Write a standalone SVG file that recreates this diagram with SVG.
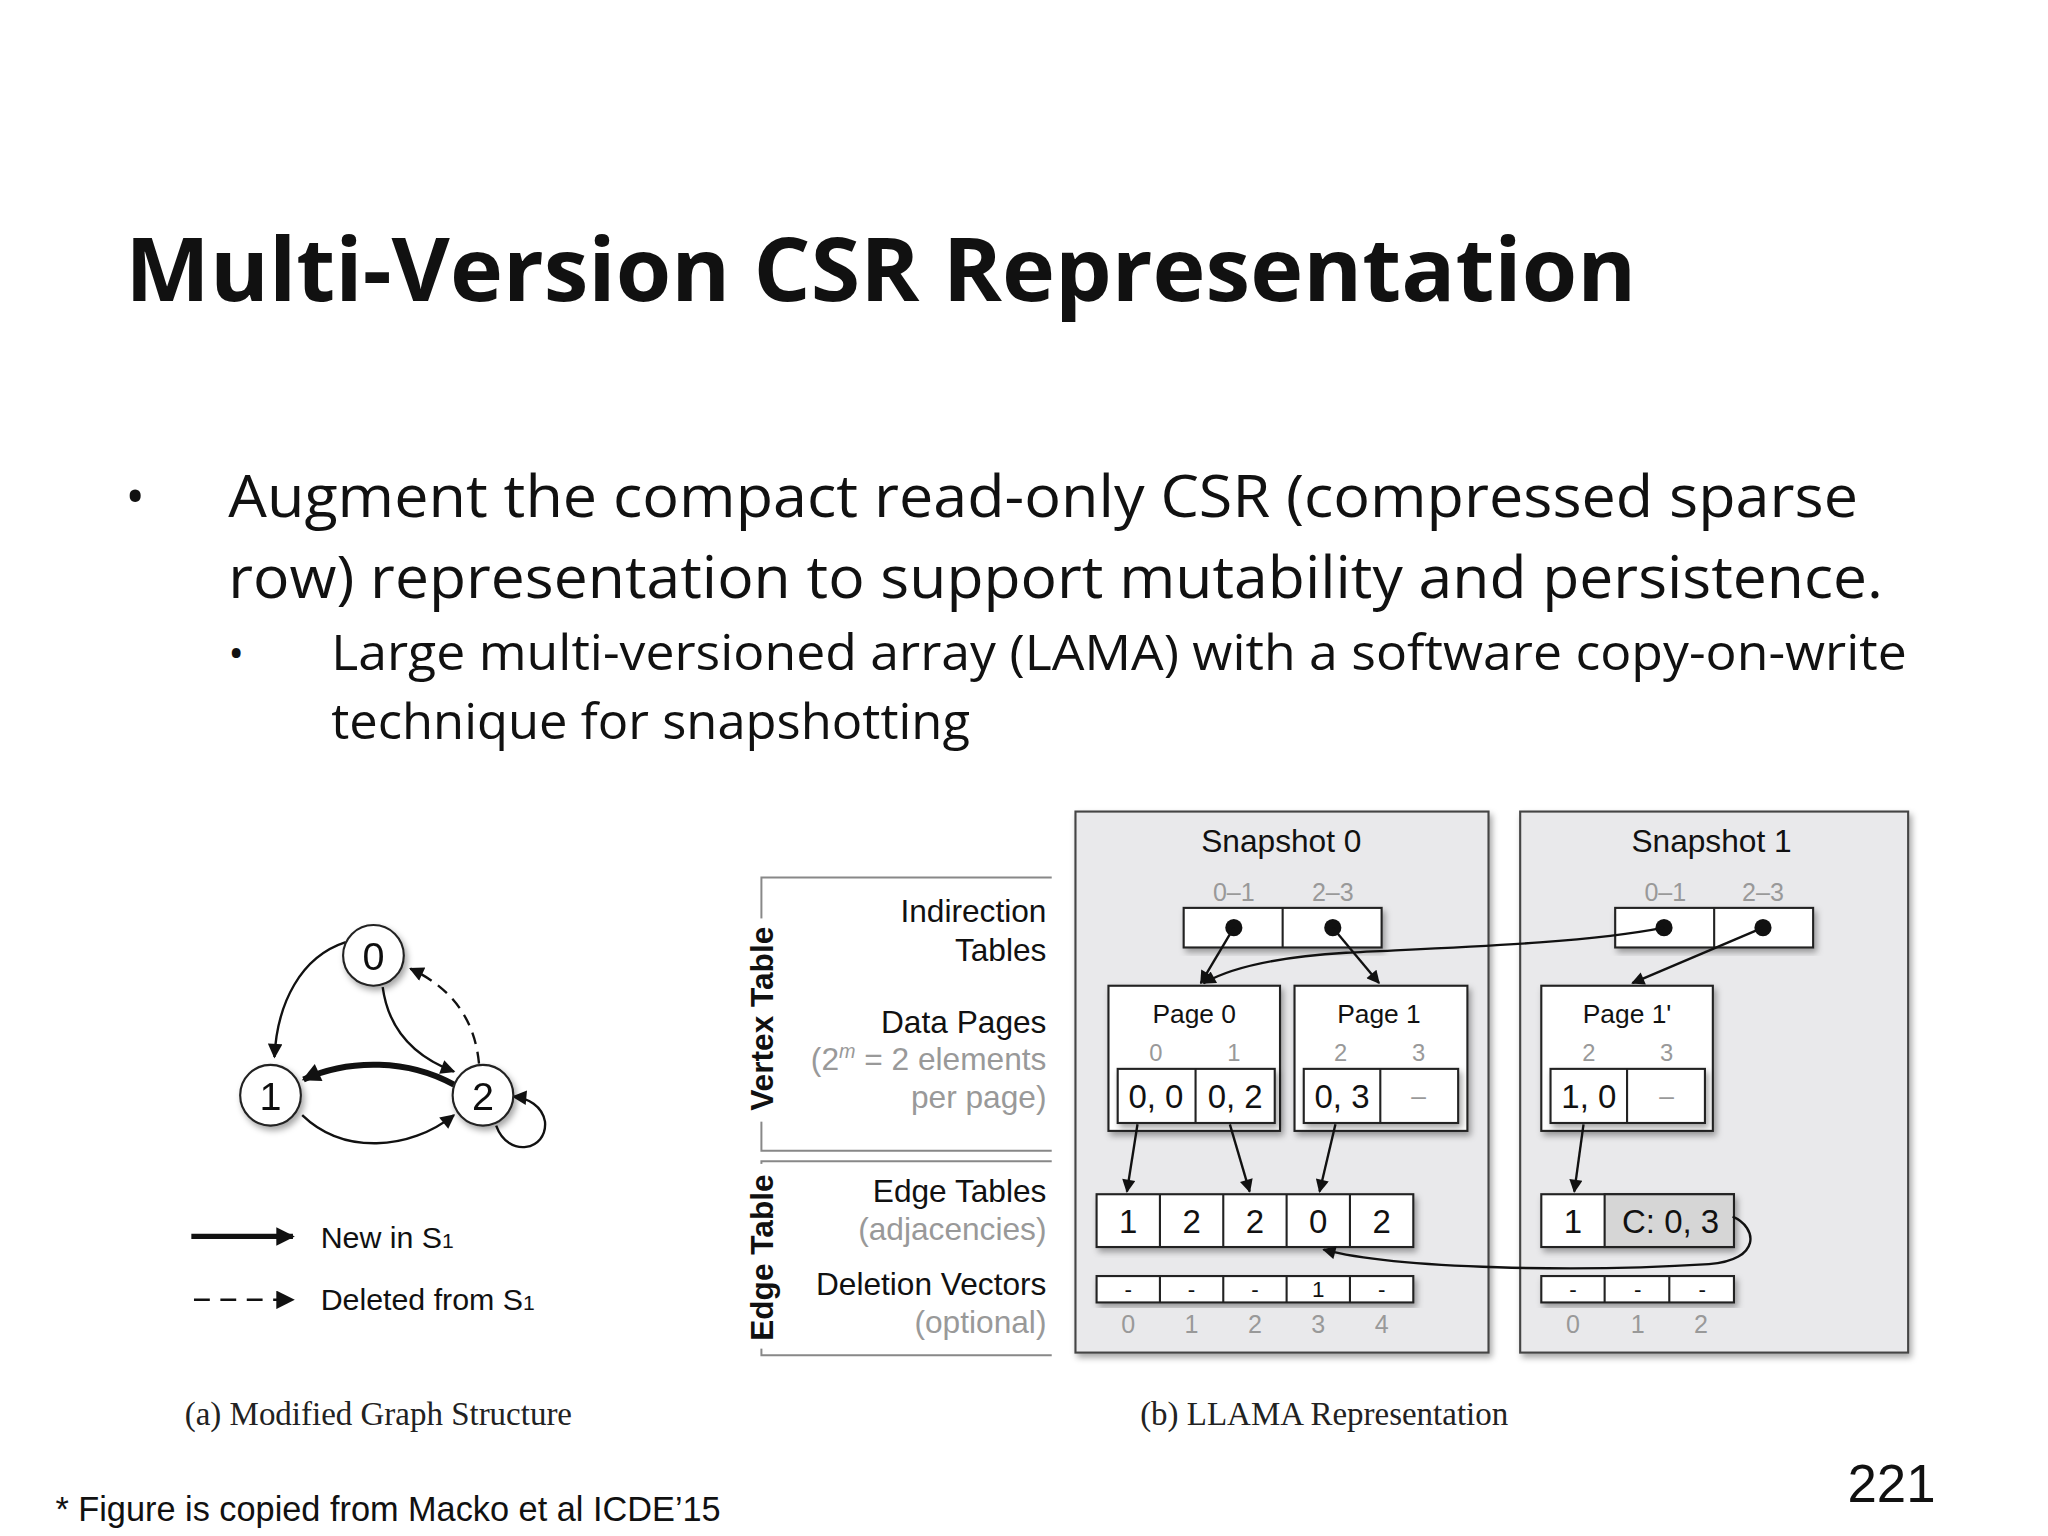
<svg xmlns="http://www.w3.org/2000/svg" width="2048" height="1536" viewBox="0 0 2048 1536">
<defs>
<style>
.t{font-family:"Open Sans","Liberation Sans",sans-serif;fill:#111}
.f{font-family:"Liberation Sans",Arial,sans-serif;fill:#111}
.g{fill:#999}
.ser{font-family:"Liberation Serif","Times New Roman",serif;fill:#222}
.box{fill:#fff;stroke:#222;stroke-width:1.6}
.snap{fill:#e9e9eb;stroke:#444;stroke-width:1.6}
.ln{fill:none;stroke:#111;stroke-width:1.8}
.br{fill:none;stroke:#888;stroke-width:1.5}
</style>
<filter id="sh" x="-10%" y="-10%" width="130%" height="130%"><feDropShadow dx="2" dy="3" stdDeviation="2.5" flood-color="#000" flood-opacity="0.35"/></filter>
<marker id="ar" viewBox="0 0 10 10" refX="9" refY="5" markerWidth="13" markerHeight="10" orient="auto" markerUnits="userSpaceOnUse"><path d="M0,0 L10,5 L0,10 z" fill="#111"/></marker>
<marker id="ar2" viewBox="0 0 10 10" refX="9" refY="5" markerWidth="15" markerHeight="11" orient="auto" markerUnits="userSpaceOnUse"><path d="M0,0 L10,5 L0,10 z" fill="#111"/></marker>
<marker id="ar3" viewBox="0 0 10 10" refX="9" refY="5" markerWidth="18" markerHeight="14" orient="auto" markerUnits="userSpaceOnUse"><path d="M0,0 L10,5 L0,10 z" fill="#111"/></marker>
</defs>
<rect width="2048" height="1536" fill="#fff"/>
<g transform="scale(1.3196)">
<text class="t" x="95" y="228" font-size="66" font-weight="bold" textLength="1145" lengthAdjust="spacingAndGlyphs">Multi-Version CSR Representation</text>
<text class="t" x="95" y="390" font-size="40">•</text>
<text class="t" x="173" y="392" font-size="45" textLength="1235" lengthAdjust="spacingAndGlyphs">Augment the compact read-only CSR (compressed sparse</text>
<text class="t" x="173" y="453" font-size="45" textLength="1254" lengthAdjust="spacingAndGlyphs">row) representation to support mutability and persistence.</text>
<text class="t" x="173" y="506" font-size="32">•</text>
<text class="t" x="251" y="508" font-size="37" textLength="1194" lengthAdjust="spacingAndGlyphs">Large multi-versioned array (LAMA) with a software copy-on-write</text>
<text class="t" x="251" y="560" font-size="37" textLength="484" lengthAdjust="spacingAndGlyphs">technique for snapshotting</text>

<!-- graph (a) -->
<g id="edges-a">
<path class="ln" d="M262,714 C228,725 210,760 208,801" marker-end="url(#ar2)"/>
<path class="ln" d="M290,748 C295,785 320,803 344,812" marker-end="url(#ar2)"/>
<path class="ln" d="M363,806 C360,775 345,750 311,734" stroke-dasharray="9,6" marker-end="url(#ar2)"/>
<path d="M344,822 C310,803 265,802 230,818" fill="none" stroke="#111" stroke-width="4.5" marker-end="url(#ar3)"/>
<path class="ln" d="M229,845 C260,875 310,872 344,845" marker-end="url(#ar2)"/>
<path class="ln" d="M376,853 C385,878 415,872 413,850 C411,838 400,832 389,831" marker-end="url(#ar2)"/>
</g>
<g id="n0" filter="url(#sh)"><circle cx="283" cy="724" r="23" class="box"/><text class="f" x="283" y="735" font-size="30" text-anchor="middle">0</text></g>
<g id="n1" filter="url(#sh)"><circle cx="205" cy="830" r="23" class="box"/><text class="f" x="205" y="841" font-size="30" text-anchor="middle">1</text></g>
<g id="n2" filter="url(#sh)"><circle cx="366" cy="830" r="23" class="box"/><text class="f" x="366" y="841" font-size="30" text-anchor="middle">2</text></g>
<g id="legend">
<line x1="145" y1="937" x2="222" y2="937" stroke="#111" stroke-width="4" marker-end="url(#ar3)"/>
<text class="f" x="243" y="946" font-size="23">New in S<tspan font-size="16">1</tspan></text>
<line x1="147" y1="985" x2="222" y2="985" stroke="#111" stroke-width="1.8" stroke-dasharray="12,8" marker-end="url(#ar3)"/>
<text class="f" x="243" y="993" font-size="23">Deleted from S<tspan font-size="16">1</tspan></text>
</g>
<text class="ser" x="140" y="1080" font-size="25">(a) Modified Graph Structure</text>
<text class="ser" x="864" y="1080" font-size="25">(b) LLAMA Representation</text>

<!-- left labels -->
<g id="brackets">
<path class="br" d="M797,665 H577 V872 H797"/>
<path class="br" d="M797,880 H577 V1027 H797"/>
<rect x="566" y="696" width="24" height="154" fill="#fff"/>
<rect x="566" y="882" width="24" height="140" fill="#fff"/>
<text class="f" font-size="24" font-weight="bold" text-anchor="middle" transform="translate(586,772) rotate(-90)">Vertex Table</text>
<text class="f" font-size="24" font-weight="bold" text-anchor="middle" transform="translate(586,953) rotate(-90)">Edge Table</text>
</g>
<g class="f" font-size="24" text-anchor="end">
<text x="793" y="699">Indirection</text>
<text x="793" y="728">Tables</text>
<text x="793" y="783">Data Pages</text>
<text x="793" y="811" class="f g">(2<tspan font-size="15" dy="-9" font-style="italic">m</tspan><tspan dy="9"> = 2 elements</tspan></text>
<text x="793" y="840" class="f g">per page)</text>
<text x="793" y="911">Edge Tables</text>
<text x="793" y="940" class="f g">(adjacencies)</text>
<text x="793" y="981">Deletion Vectors</text>
<text x="793" y="1010" class="f g">(optional)</text>
</g>

<!-- Snapshot 0 -->
<g id="snapshot0">
<rect x="815" y="615" width="313" height="410" class="snap" filter="url(#sh)"/>
<text class="f" x="971" y="646" font-size="24" text-anchor="middle">Snapshot 0</text>
<text class="f g" x="935" y="683" font-size="19" text-anchor="middle">0–1</text>
<text class="f g" x="1010" y="683" font-size="19" text-anchor="middle">2–3</text>
<g filter="url(#sh)"><rect x="897" y="688" width="150" height="30" class="box"/></g>
<line x1="972" y1="688" x2="972" y2="718" stroke="#222" stroke-width="1.6"/>
<circle cx="935" cy="703" r="6.5" fill="#111"/><circle cx="1010" cy="703" r="6.5" fill="#111"/>
</g>
<g id="page0">
<rect x="840" y="747" width="130" height="110" class="box" filter="url(#sh)"/>
<text class="f" x="905" y="775" font-size="20" text-anchor="middle">Page 0</text>
<text class="f g" x="876" y="804" font-size="18" text-anchor="middle">0</text>
<text class="f g" x="935" y="804" font-size="18" text-anchor="middle">1</text>
<rect x="847" y="810" width="119" height="41" class="box" filter="url(#sh)"/>
<line x1="906" y1="810" x2="906" y2="851" stroke="#222" stroke-width="1.6"/>
<text class="f" x="876" y="840" font-size="25" text-anchor="middle">0, 0</text>
<text class="f" x="936" y="840" font-size="25" text-anchor="middle">0, 2</text>
</g>
<g id="page1">
<rect x="981" y="747" width="131" height="110" class="box" filter="url(#sh)"/>
<text class="f" x="1045" y="775" font-size="20" text-anchor="middle">Page 1</text>
<text class="f g" x="1016" y="804" font-size="18" text-anchor="middle">2</text>
<text class="f g" x="1075" y="804" font-size="18" text-anchor="middle">3</text>
<rect x="988" y="810" width="117" height="41" class="box" filter="url(#sh)"/>
<line x1="1046" y1="810" x2="1046" y2="851" stroke="#222" stroke-width="1.6"/>
<text class="f" x="1017" y="840" font-size="25" text-anchor="middle">0, 3</text>
<text class="f g" x="1075" y="837" font-size="20" text-anchor="middle">–</text>
</g>
<g id="edges0">
<rect x="831" y="905" width="240" height="40" class="box" filter="url(#sh)"/>
<g stroke="#222" stroke-width="1.6"><line x1="879" y1="905" x2="879" y2="945"/><line x1="927" y1="905" x2="927" y2="945"/><line x1="975" y1="905" x2="975" y2="945"/><line x1="1023" y1="905" x2="1023" y2="945"/></g>
<g class="f" font-size="25" text-anchor="middle"><text x="855" y="934">1</text><text x="903" y="934">2</text><text x="951" y="934">2</text><text x="999" y="934">0</text><text x="1047" y="934">2</text></g>
<rect x="831" y="967" width="240" height="20" class="box" filter="url(#sh)"/>
<g stroke="#222" stroke-width="1.6"><line x1="879" y1="967" x2="879" y2="987"/><line x1="927" y1="967" x2="927" y2="987"/><line x1="975" y1="967" x2="975" y2="987"/><line x1="1023" y1="967" x2="1023" y2="987"/></g>
<g class="f" font-size="17" text-anchor="middle"><text x="855" y="983">-</text><text x="903" y="983">-</text><text x="951" y="983">-</text><text x="999" y="983">1</text><text x="1047" y="983">-</text></g>
<g class="f g" font-size="19" text-anchor="middle"><text x="855" y="1010">0</text><text x="903" y="1010">1</text><text x="951" y="1010">2</text><text x="999" y="1010">3</text><text x="1047" y="1010">4</text></g>
</g>

<!-- Snapshot 1 -->
<g id="snapshot1">
<rect x="1152" y="615" width="294" height="410" class="snap" filter="url(#sh)"/>
<text class="f" x="1297" y="646" font-size="24" text-anchor="middle">Snapshot 1</text>
<text class="f g" x="1262" y="683" font-size="19" text-anchor="middle">0–1</text>
<text class="f g" x="1336" y="683" font-size="19" text-anchor="middle">2–3</text>
<g filter="url(#sh)"><rect x="1224" y="688" width="150" height="30" class="box"/></g>
<line x1="1299" y1="688" x2="1299" y2="718" stroke="#222" stroke-width="1.6"/>
<circle cx="1261" cy="703" r="6.5" fill="#111"/><circle cx="1336" cy="703" r="6.5" fill="#111"/>
</g>
<g id="page1p">
<rect x="1168" y="747" width="130" height="110" class="box" filter="url(#sh)"/>
<text class="f" x="1233" y="775" font-size="20" text-anchor="middle">Page 1'</text>
<text class="f g" x="1204" y="804" font-size="18" text-anchor="middle">2</text>
<text class="f g" x="1263" y="804" font-size="18" text-anchor="middle">3</text>
<rect x="1175" y="810" width="117" height="41" class="box" filter="url(#sh)"/>
<line x1="1233" y1="810" x2="1233" y2="851" stroke="#222" stroke-width="1.6"/>
<text class="f" x="1204" y="840" font-size="25" text-anchor="middle">1, 0</text>
<text class="f g" x="1263" y="837" font-size="20" text-anchor="middle">–</text>
</g>
<g id="edges1">
<rect x="1168" y="905" width="146" height="40" class="box" filter="url(#sh)"/>
<rect x="1216" y="905" width="98" height="40" fill="#d6d6d6" stroke="#222" stroke-width="1.6"/>
<text class="f" x="1192" y="934" font-size="25" text-anchor="middle">1</text>
<text class="f" x="1266" y="934" font-size="25" text-anchor="middle" fill="#333">C: 0, 3</text>
<rect x="1168" y="967" width="146" height="20" class="box" filter="url(#sh)"/>
<g stroke="#222" stroke-width="1.6"><line x1="1216" y1="967" x2="1216" y2="987"/><line x1="1265" y1="967" x2="1265" y2="987"/></g>
<g class="f" font-size="17" text-anchor="middle"><text x="1192" y="983">-</text><text x="1241" y="983">-</text><text x="1290" y="983">-</text></g>
<g class="f g" font-size="19" text-anchor="middle"><text x="1192" y="1010">0</text><text x="1241" y="1010">1</text><text x="1289" y="1010">2</text></g>
</g>

<g id="connectors">
<line class="ln" x1="935" y1="703" x2="910" y2="745" marker-end="url(#ar)"/>
<line class="ln" x1="1010" y1="703" x2="1045" y2="745" marker-end="url(#ar)"/>
<path class="ln" d="M1261,703 C1200,715 1100,718 1020,722 C970,725 935,732 912,745" marker-end="url(#ar)"/>
<line class="ln" x1="1336" y1="703" x2="1237" y2="745" marker-end="url(#ar)"/>
<line class="ln" x1="862" y1="852" x2="854" y2="903" marker-end="url(#ar)"/>
<line class="ln" x1="932" y1="852" x2="947" y2="903" marker-end="url(#ar)"/>
<line class="ln" x1="1012" y1="852" x2="1000" y2="903" marker-end="url(#ar)"/>
<line class="ln" x1="1200" y1="852" x2="1193" y2="903" marker-end="url(#ar)"/>
<path class="ln" d="M1313,922 C1332,930 1335,955 1295,958 C1200,964 1060,962 1003,947" marker-end="url(#ar)"/>
</g>

<text class="f" x="42" y="1153" font-size="26">* Figure is copied from Macko et al ICDE’15</text>
<text class="f" x="1400" y="1138" font-size="40">221</text>
</g>
</svg>
